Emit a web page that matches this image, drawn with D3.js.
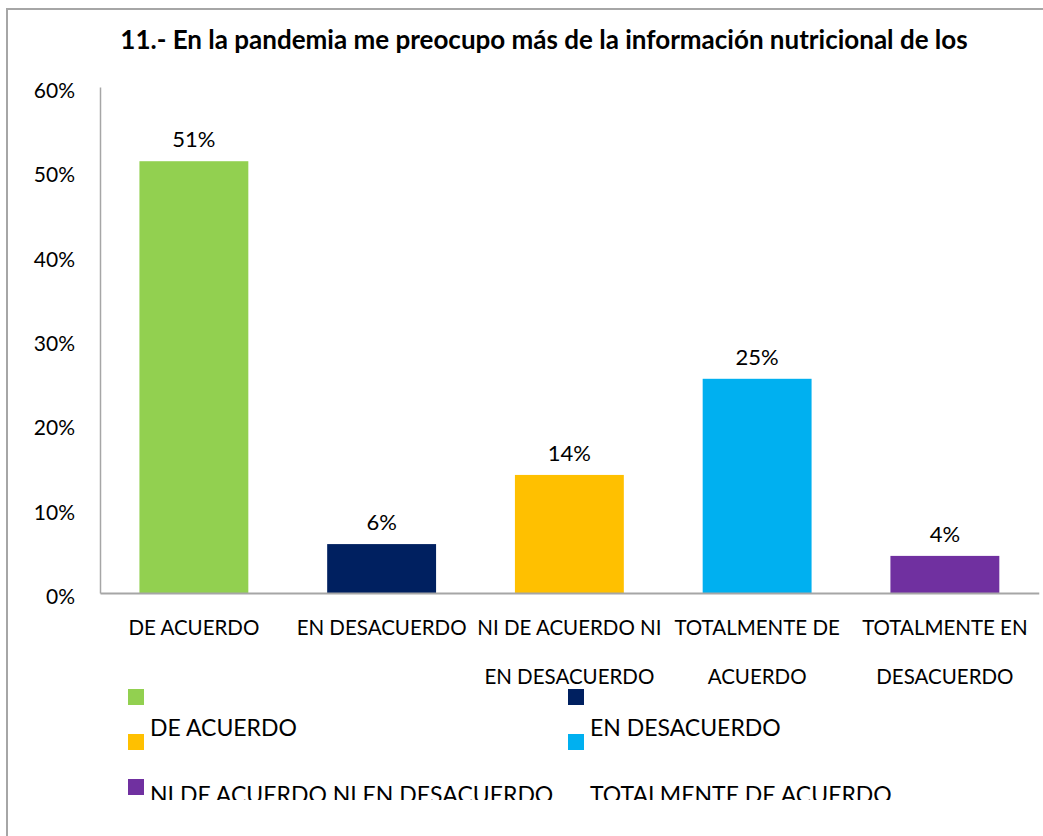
<!DOCTYPE html>
<html>
<head>
<meta charset="utf-8">
<script src="https://cdn.jsdelivr.net/npm/d3@7"></script>
<style>
  html, body { margin: 0; padding: 0; background: #fff; }
  svg { display: block; font-family: Lato, "Open Sans", sans-serif; }
</style>
</head>
<body>
<svg id="chart" width="1043" height="836"></svg>
<script>
// ---- data ----
const title = "11.- En la pandemia me preocupo más de la información nutricional de los";
const categories = ["DE ACUERDO", "EN DESACUERDO", "NI DE ACUERDO NI EN DESACUERDO", "TOTALMENTE DE ACUERDO", "TOTALMENTE EN DESACUERDO"];
const categoryLines = [["DE ACUERDO"], ["EN DESACUERDO"], ["NI DE ACUERDO NI", "EN DESACUERDO"], ["TOTALMENTE DE", "ACUERDO"], ["TOTALMENTE EN", "DESACUERDO"]];
const values = [0.512, 0.058, 0.140, 0.254, 0.044];
const colors = ["#92d050", "#002060", "#ffc000", "#00b0f0", "#7030a0"];
const yTicks = [0, 0.1, 0.2, 0.3, 0.4, 0.5, 0.6];

const svg = d3.select("#chart");

// outer chart border (right and bottom edges fall outside the view)
svg.append("rect").attr("x", 7).attr("y", 9).attr("width", 1100).attr("height", 900)
  .attr("fill", "#fff").attr("stroke", "#a6a6a6").attr("stroke-width", 2);

// title
svg.append("text").attr("x", 544).attr("y", 49).attr("text-anchor", "middle")
  .attr("font-weight", "bold").attr("font-size", 26).attr("fill", "#000").text(title);

// scales
const x = d3.scaleBand().domain(categories).range([100, 1038.75]).paddingInner(0.42).paddingOuter(0.21);
const y = d3.scaleLinear().domain([0, 0.6]).range([593, 87]);

// y axis
const yAxis = svg.append("g").attr("transform", "translate(100,0)")
  .call(d3.axisLeft(y).tickValues(yTicks).tickSize(0).tickPadding(25).tickFormat(d3.format(".0%")));
yAxis.select(".domain").attr("stroke", "#a6a6a6").attr("stroke-width", 1.5);
yAxis.selectAll("text").attr("font-size", 21).attr("fill", "#000").attr("dy", "0.5em")
  .attr("font-family", "Lato, sans-serif");

// bars
svg.append("g").selectAll("rect").data(values).join("rect")
  .attr("x", (d, i) => x(categories[i]))
  .attr("y", d => y(d))
  .attr("width", x.bandwidth())
  .attr("height", d => y(0) - y(d))
  .attr("fill", (d, i) => colors[i]);

// x axis
const xAxis = svg.append("g").attr("transform", "translate(0,593)")
  .call(d3.axisBottom(x).tickSize(0).tickFormat(""));
xAxis.select(".domain").attr("stroke", "#a6a6a6").attr("stroke-width", 2);

// category labels (wrapped)
const catG = svg.append("g");
categories.forEach((c, i) => {
  const t = catG.append("text").attr("x", x(c) + x.bandwidth() / 2).attr("y", 635)
    .attr("text-anchor", "middle").attr("font-size", 20.5).attr("fill", "#000");
  categoryLines[i].forEach((ln, j) => {
    t.append("tspan").attr("x", x(c) + x.bandwidth() / 2).attr("dy", j === 0 ? 0 : 49).text(ln);
  });
});

// data labels
svg.append("g").selectAll("text").data(values).join("text")
  .attr("x", (d, i) => x(categories[i]) + x.bandwidth() / 2)
  .attr("y", d => y(d) - 14)
  .attr("text-anchor", "middle").attr("font-size", 22).attr("fill", "#000")
  .text(d => d3.format(".0%")(d));

// legend (clipped at the bottom, as in the reference)
const legBottom = 800;
svg.append("clipPath").attr("id", "legclip").append("rect")
  .attr("x", 0).attr("y", 660).attr("width", 1043).attr("height", legBottom - 660);
const leg = svg.append("g").attr("clip-path", "url(#legclip)");
const colX = [128, 568];
categories.forEach((c, i) => {
  const col = i % 2, row = Math.floor(i / 2);
  leg.append("rect").attr("x", colX[col]).attr("y", 689 + row * 45)
    .attr("width", 16).attr("height", 16).attr("fill", colors[i]);
  const ty = 736 + row * 67.4;
  if (ty - 18 < legBottom) {
    leg.append("text").attr("x", colX[col] + 22).attr("y", ty)
      .attr("font-size", 23).attr("fill", "#000").text(c);
  }
});
</script>
</body>
</html>
